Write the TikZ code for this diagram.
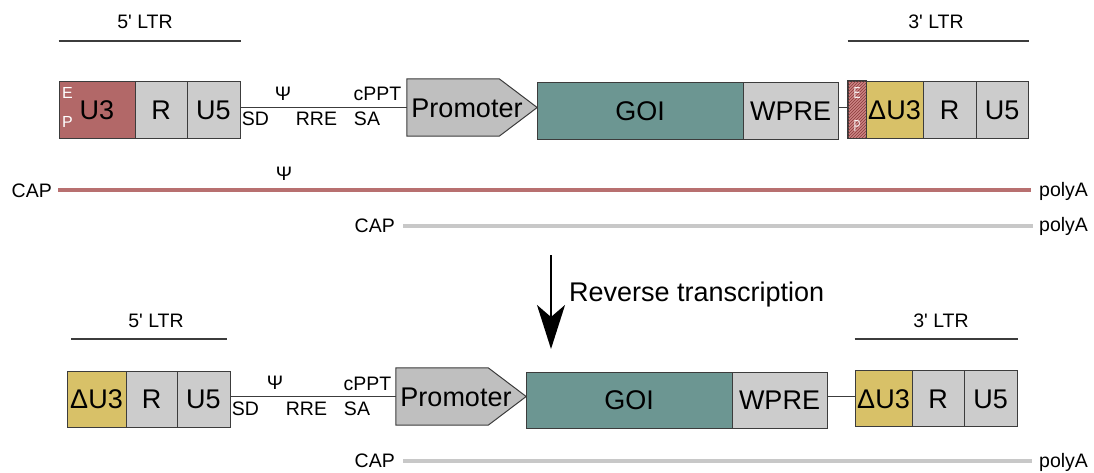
\documentclass[tikz,border=0pt]{standalone}
\usepackage{fontspec}
\setmainfont{Liberation Sans}[Ligatures=TeXOff]
\usetikzlibrary{arrows.meta,patterns,calc}
\definecolor{u3red}{HTML}{B26868}
\definecolor{boxgrey}{HTML}{CCCCCC}
\definecolor{promgrey}{HTML}{BFBFBF}
\definecolor{goiteal}{HTML}{6C9692}
\definecolor{dyellow}{HTML}{D8C168}
\definecolor{redline}{HTML}{B87070}
\definecolor{greyline}{HTML}{C8C8C8}
\definecolor{bordercol}{HTML}{3C3C3C}
\definecolor{hatchdark}{HTML}{8A3A3A}
\definecolor{hatchlight}{HTML}{CC8484}
\begin{document}
\begin{tikzpicture}[x=1pt,y=-1pt,
  box/.style={draw=bordercol, line width=1pt, inner sep=0pt, minimum height=57pt,
    text height=19.5pt, text depth=0pt, font=\fontsize{27}{30}\selectfont},
  boxb/.style={box, minimum height=56pt},
  lbl/.style={inner sep=0pt, text height=14pt, text depth=0pt, font=\fontsize{19.5}{22}\selectfont},
  ltrlbl/.style={inner sep=0pt, font=\fontsize{19.5}{22}\selectfont},
  tiny/.style={inner sep=0pt, text=white, font=\fontsize{16}{17}\selectfont},
  link/.style={draw=bordercol, line width=1.3pt},
  ltrline/.style={draw=bordercol, line width=1.3pt},
  rna/.style={line width=4.5pt},
  bigtxt/.style={inner sep=0pt, font=\fontsize{27}{30}\selectfont},
]
\useasboundingbox (0,0) rectangle (1094,472);

% ---------------- top row ----------------
\node[box, fill=u3red, minimum width=76pt] (u3) at (97,109.5) {U3};
\node[box, fill=boxgrey, minimum width=52pt] (r1) at (161,109.5) {R};
\node[box, fill=boxgrey, minimum width=53pt] (u51) at (213.5,109.5) {U5};
\node[tiny] (e1) at (67.5,93) {E};
\node[tiny] (p1) at (67.5,122) {P};

\node[inner sep=0pt, minimum width=130pt, minimum height=57pt] (prom) at (472,107.5) {};
\draw[draw=bordercol, line width=1pt, fill=promgrey]
  (prom.north west) -- ($(prom.north east)+(-38,0)$) -- (prom.east)
  -- ($(prom.south east)+(-38,0)$) -- (prom.south west) -- cycle;
\node[bigtxt, text height=19.5pt, text depth=0pt] (promT) at (467,107.5) {Promoter};

\node[box, fill=goiteal, minimum width=206pt] (goi) at (640,110.5) {GOI};
\node[box, fill=boxgrey, minimum width=95pt] (wpre) at (790.5,110.5) {WPRE};

\node[box, fill=hatchlight, minimum width=18pt,
      postaction={pattern=north east lines, pattern color=hatchdark}] (hatch) at (857,109.5) {};
\node[tiny, xscale=0.65, opacity=0.9] (e2) at (857,93) {E};
\node[tiny, xscale=0.65, opacity=0.9] (p2) at (857,126) {P};
\draw[draw=bordercol, line width=1pt] (hatch.north west) rectangle (hatch.south east);
\node[box, fill=dyellow, minimum width=57pt] (du3) at (894.5,109.5) {ΔU3};
\node[box, fill=boxgrey, minimum width=53pt] (r2) at (949.5,109.5) {R};
\node[box, fill=boxgrey, minimum width=52pt] (u52) at (1002,109.5) {U5};

\draw[link] (u51.east |- prom.west) -- (prom.west);
\draw[link] (wpre.east |- prom.west) -- (hatch.west |- prom.west);

\node[lbl] (psi1) at (283,93) {Ψ};
\node[lbl] (cppt1) at (377.5,93) {cPPT};
\node[lbl] (sd1) at (255.5,118) {SD};
\node[lbl] (rre1) at (316.5,118) {RRE};
\node[lbl] (sa1) at (367,118) {SA};

% LTR labels top
\draw[ltrline] (u3.west |- 0,41) coordinate (l5a) -- (u51.east |- 0,41) coordinate (l5b);
\node[ltrlbl] (ltr5t) at (145,22) {5' LTR};
\draw[ltrline] (hatch.west |- 0,41) coordinate (l3a) -- (u52.east |- 0,41) coordinate (l3b);
\node[ltrlbl] (ltr3t) at (936,22) {3' LTR};

% ---------------- RNA lines ----------------
\node[ltrlbl, anchor=base east] (cap1) at (52,197) {CAP};
\node[ltrlbl, anchor=base west] (pa1) at (1039,196) {polyA};
\draw[rna, draw=redline] (58,190) coordinate (rs) -- (1031,190) coordinate (re);
\node[lbl] (psi2) at (284,173) {Ψ};

\node[ltrlbl, anchor=base east] (cap2) at (395,232) {CAP};
\node[ltrlbl, anchor=base west] (pa2) at (1039,231) {polyA};
\draw[rna, draw=greyline] (403,226) coordinate (gs) -- (1033,226) coordinate (ge);

% ---------------- arrow ----------------
\coordinate (as) at (551,255);
\coordinate (ae) at (551,349);
\draw[line width=2pt, -{Stealth[length=44pt, width=28pt, inset=12pt]}] (as) -- (ae);
\node[bigtxt, anchor=base west] (rt) at (569,301) {Reverse transcription};

% ---------------- bottom row ----------------
\node[boxb, fill=dyellow, minimum width=59pt] (du3b) at (96.5,399) {ΔU3};
\node[boxb, fill=boxgrey, minimum width=51pt] (rb) at (151.5,399) {R};
\node[boxb, fill=boxgrey, minimum width=53pt] (u5b) at (203.5,399) {U5};

\node[inner sep=0pt, minimum width=130pt, minimum height=57pt] (promb) at (461,396.5) {};
\draw[draw=bordercol, line width=1pt, fill=promgrey]
  (promb.north west) -- ($(promb.north east)+(-38,0)$) -- (promb.east)
  -- ($(promb.south east)+(-38,0)$) -- (promb.south west) -- cycle;
\node[bigtxt, text height=19.5pt, text depth=0pt] (prombT) at (456,396.5) {Promoter};

\node[boxb, fill=goiteal, minimum width=206pt] (goib) at (629,400) {GOI};
\node[boxb, fill=boxgrey, minimum width=95pt] (wpreb) at (779.5,400) {WPRE};
\node[boxb, fill=dyellow, minimum width=57pt] (du3rb) at (883.5,398.5) {ΔU3};
\node[boxb, fill=boxgrey, minimum width=52pt] (rrb) at (938,398.5) {R};
\node[boxb, fill=boxgrey, minimum width=53pt] (u5rb) at (990.5,398.5) {U5};

\draw[link] (u5b.east |- promb.west) -- (promb.west);
\draw[link] (wpreb.east |- promb.west) -- (du3rb.west |- promb.west);

\node[lbl] (psi3) at (275,382) {Ψ};
\node[lbl] (cppt2) at (367.5,383) {cPPT};
\node[lbl] (sd2) at (245.5,408) {SD};
\node[lbl] (rre2) at (306.5,408) {RRE};
\node[lbl] (sa2) at (357,408) {SA};

\draw[ltrline] (71,339) coordinate (m5a) -- (227,339) coordinate (m5b);
\node[ltrlbl] (ltr5b) at (156,321) {5' LTR};
\draw[ltrline] (du3rb.west |- 0,339) coordinate (m3a) -- (u5rb.east |- 0,339) coordinate (m3b);
\node[ltrlbl] (ltr3b) at (941,321) {3' LTR};

\node[ltrlbl, anchor=base east] (cap3) at (395,467) {CAP};
\node[ltrlbl, anchor=base west] (pa3) at (1039,467) {polyA};
\draw[rna, draw=greyline] (403,461) coordinate (bs) -- (1032,461) coordinate (be);
\end{tikzpicture}
\end{document}
